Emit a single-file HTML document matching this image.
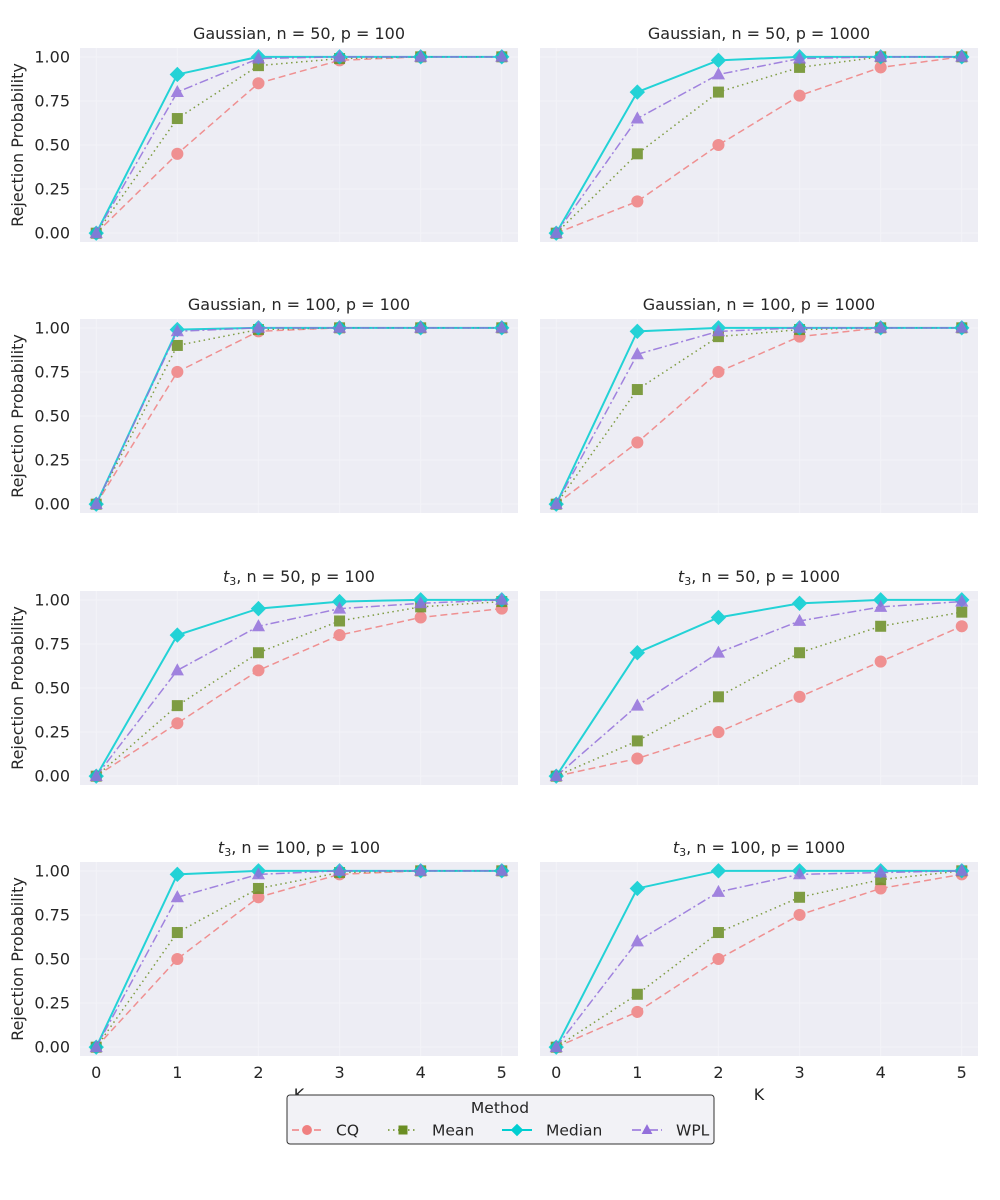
<!DOCTYPE html>
<html><head><meta charset="utf-8"><style>
body{margin:0;background:#fff;}
svg{display:block;font-family:"DejaVu Sans","Liberation Sans",sans-serif;}
</style></head><body>
<svg id="chart" width="1000" height="1200" viewBox="0 0 1000 1200" xmlns="http://www.w3.org/2000/svg"></svg>
<script>
const kValues=[0,1,2,3,4,5];
const yTicks=[0,0.25,0.5,0.75,1.0];
const yTickLabels=["0.00","0.25","0.50","0.75","1.00"];
const panelTitles=["Gaussian, n = 50, p = 100","Gaussian, n = 50, p = 1000","Gaussian, n = 100, p = 100","Gaussian, n = 100, p = 1000","t3, n = 50, p = 100","t3, n = 50, p = 1000","t3, n = 100, p = 100","t3, n = 100, p = 1000"];
const cqSeries=[[0,.45,.85,.98,1,1],[0,.18,.5,.78,.94,1],[0,.75,.98,1,1,1],[0,.35,.75,.95,1,1],[0,.3,.6,.8,.9,.95],[0,.1,.25,.45,.65,.85],[0,.5,.85,.98,1,1],[0,.2,.5,.75,.9,.98]];
const meanSeries=[[0,.65,.95,.99,1,1],[0,.45,.8,.94,1,1],[0,.9,.99,1,1,1],[0,.65,.95,.99,1,1],[0,.4,.7,.88,.96,.99],[0,.2,.45,.7,.85,.93],[0,.65,.9,.99,1,1],[0,.3,.65,.85,.95,1]];
const medianSeries=[[0,.9,1,1,1,1],[0,.8,.98,1,1,1],[0,.99,1,1,1,1],[0,.98,1,1,1,1],[0,.8,.95,.99,1,1],[0,.7,.9,.98,1,1],[0,.98,1,1,1,1],[0,.9,1,1,1,1]];
const wplSeries=[[0,.8,.99,1,1,1],[0,.65,.9,.99,1,1],[0,.98,1,1,1,1],[0,.85,.98,1,1,1],[0,.6,.85,.95,.98,1],[0,.4,.7,.88,.96,.99],[0,.85,.98,1,1,1],[0,.6,.88,.98,.99,1]];

const NS="http://www.w3.org/2000/svg";
const svg=document.getElementById('chart');
function mk(tag,attrs,parent){const e=document.createElementNS(NS,tag);for(const k in attrs)e.setAttribute(k,attrs[k]);(parent||svg).appendChild(e);return e;}
const methods=[
 {name:"CQ",data:cqSeries,color:"#f08080",dash:"7,4",marker:"circle",w:1.5},
 {name:"Mean",data:meanSeries,color:"#6b8e23",dash:"1.5,3.5",marker:"square",w:1.5},
 {name:"Median",data:medianSeries,color:"#00ced1",dash:"",marker:"diamond",w:2},
 {name:"WPL",data:wplSeries,color:"#9370db",dash:"9,3,2,3",marker:"triangle",w:1.5}
];
const colX=[80,540], plotW=438;
const rowTop=[48,319,591,862], plotH=194;
function drawMarker(g,type,cx,cy,color,s){
 let e;
 if(type==="circle") e=mk('circle',{cx:cx,cy:cy,r:s*0.55,fill:color},g);
 else if(type==="square") e=mk('rect',{x:cx-s*0.5,y:cy-s*0.5,width:s,height:s,fill:color},g);
 else if(type==="diamond") e=mk('polygon',{points:`${cx},${cy-s*0.7} ${cx+s*0.7},${cy} ${cx},${cy+s*0.7} ${cx-s*0.7},${cy}`,fill:color},g);
 else e=mk('polygon',{points:`${cx},${cy-s*0.65} ${cx+s*0.6},${cy+s*0.45} ${cx-s*0.6},${cy+s*0.45}`,fill:color},g);
 return e;
}
for(let p=0;p<8;p++){
 const col=p%2,row=Math.floor(p/2);
 const L=colX[col],T=rowTop[row];
 const xs=k=>L+(k+0.2)/5.4*plotW;
 const ys=v=>T+(1.05-v)/1.1*plotH;
 const g=mk('g',{});
 
 
 const bg=mk('rect',{x:L,y:T,width:plotW,height:plotH,fill:"#ededf4"},g);
 
 
 yTicks.forEach((t,i)=>{
  const gl=mk('line',{x1:L,x2:L+plotW,y1:ys(t),y2:ys(t),stroke:"#f3f3f8","stroke-width":1},g);
  
  
  if(col===0){
   const tl=mk('text',{x:L-10,y:ys(t)+5.5,"text-anchor":"end","font-size":16,fill:"#262626"},g);
   tl.textContent=yTickLabels[i];
   
   
  }
 });
 kValues.forEach(k=>{
  const gl=mk('line',{x1:xs(k),x2:xs(k),y1:T,y2:T+plotH,stroke:"#f3f3f8","stroke-width":1},g);
  
  
  if(row===3){
   const tl=mk('text',{x:xs(k),y:T+plotH+22,"text-anchor":"middle","font-size":16,fill:"#262626"},g);
   tl.textContent=String(k);
   
   
  }
 });
 const title=mk('text',{x:L+plotW/2,y:T-9,"text-anchor":"middle","font-size":16,fill:"#262626"},g);
 
 
 const tt=panelTitles[p];
 if(tt.startsWith("t3")){
  const a=mk('tspan',{"font-style":"italic"},title);a.textContent="t";
  const b=mk('tspan',{"font-size":11,dy:3},title);b.textContent="3";
  const c=mk('tspan',{dy:-3},title);c.textContent=tt.slice(2);
 } else title.textContent=tt;
 if(col===0){
  const yl=mk('text',{x:23,y:T+plotH/2,transform:`rotate(-90 23 ${T+plotH/2})`,"text-anchor":"middle","font-size":16,fill:"#262626"},g);
  yl.textContent="Rejection Probability";
  
  
 }
 if(row===3){
  const xl=mk('text',{x:L+plotW/2,y:T+plotH+44,"text-anchor":"middle","font-size":16,fill:"#262626"},g);
  xl.textContent="K";
  
  
 }
 methods.forEach(m=>{
  const vals=m.data[p];
  const sg=mk('g',{opacity:0.85},g);
  
  
  const pts=vals.map((v,i)=>xs(kValues[i])+","+ys(v)).join(" ");
  const pl=mk('polyline',{points:pts,fill:"none",stroke:m.color,"stroke-width":m.w,"stroke-dasharray":m.dash},sg);
  
  
  vals.forEach((v,i)=>{
   const mm=drawMarker(sg,m.marker,xs(kValues[i]),ys(v),m.color,11);
   
   
  });
 });
}
const lg=mk('g',{});


const lb=mk('rect',{x:287,y:1095,width:427,height:49,rx:3,fill:"#f2f2f6",stroke:"#333","stroke-width":1},lg);


const lt=mk('text',{x:500,y:1113,"text-anchor":"middle","font-size":15.5,fill:"#262626"},lg);
lt.textContent="Method";


const legX=[292,388,502,632];
methods.forEach((m,i)=>{
 const eg=mk('g',{},lg);
 
 
 const x0=legX[i],yy=1130;
 mk('line',{x1:x0,x2:x0+30,y1:yy,y2:yy,stroke:m.color,"stroke-width":m.w,"stroke-dasharray":m.dash},eg);
 drawMarker(eg,m.marker,x0+15,yy,m.color,9);
 const t=mk('text',{x:x0+44,y:yy+5.5,"font-size":15.5,fill:"#262626"},eg);
 t.textContent=m.name;
});
</script>
</body></html>
